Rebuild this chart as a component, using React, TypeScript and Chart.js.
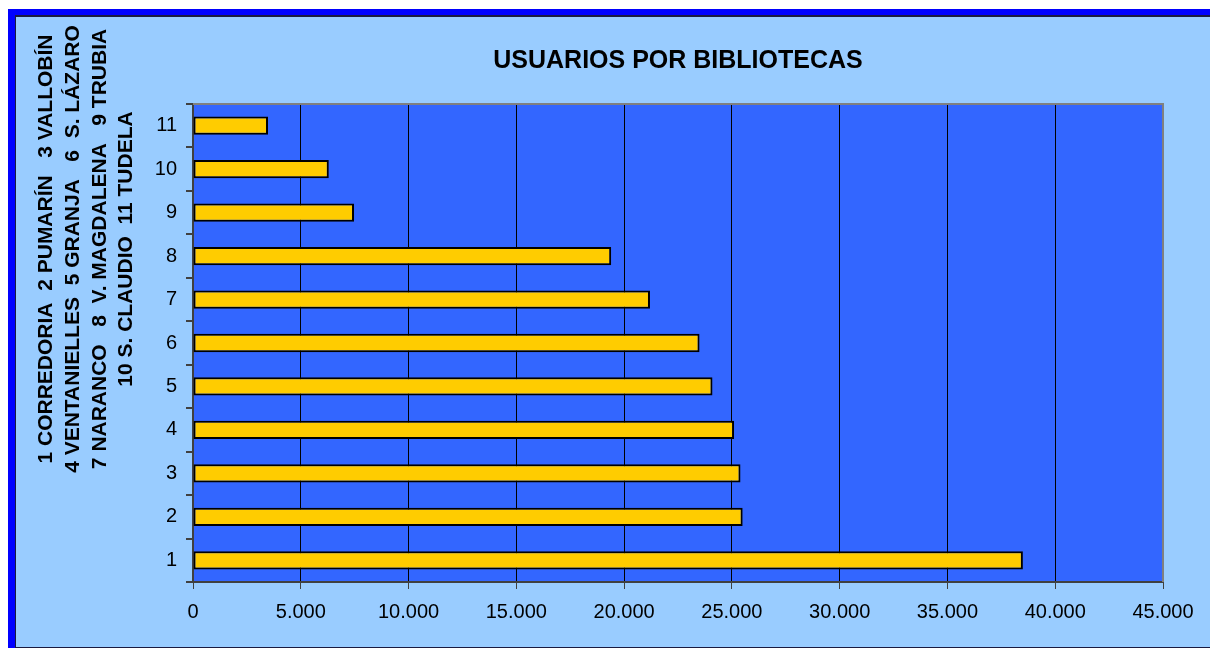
import React, { useEffect, useRef } from "react";
import { Chart, registerables } from "chart.js";

Chart.register(...registerables);

const categories = ["1", "2", "3", "4", "5", "6", "7", "8", "9", "10", "11"];
const usuarios = [38500, 25500, 25400, 25100, 24100, 23500, 21200, 19400, 7470, 6300, 3480];
const xMax = 45000;
const xStep = 5000;
const chartTitle = "USUARIOS POR BIBLIOTECAS";
const axisTitleLines = [
  "1 CORREDORIA  2 PUMARÍN   3 VALLOBÍN",
  "4 VENTANIELLES  5 GRANJA   6  S. LÁZARO",
  "7 NARANCO   8  V. MAGDALENA   9 TRUBIA",
  "10 S. CLAUDIO  11 TUDELA",
];

const FONT = "'Liberation Sans', Arial, sans-serif";
const W = 1210;
const H = 648;

const fmt = (v: number) => {
  const s = Math.round(v).toString();
  return s.replace(/\B(?=(\d{3})+(?!\d))/g, ".");
};

const framePlugin = {
  id: "frame",
  beforeDraw(chart: any) {
    const { ctx, chartArea } = chart;
    ctx.save();
    ctx.fillStyle = "#ffffff";
    ctx.fillRect(0, 0, W + 20, H + 20);
    ctx.fillStyle = "#0000ff";
    ctx.fillRect(8, 9, W + 20, H + 20);
    ctx.fillStyle = "#1a1a40";
    ctx.fillRect(15, 15, W + 20, H + 20);
    ctx.fillStyle = "#99ccff";
    ctx.fillRect(16, 17, W + 20, H - 18);
    ctx.fillStyle = "#3366ff";
    ctx.fillRect(chartArea.left, chartArea.top, chartArea.right - chartArea.left, chartArea.bottom - chartArea.top);
    ctx.restore();
  },
  afterDraw(chart: any) {
    const { ctx, chartArea } = chart;
    ctx.save();
    ctx.strokeStyle = "#808080";
    ctx.lineWidth = 2;
    ctx.beginPath();
    ctx.moveTo(chartArea.left, chartArea.top);
    ctx.lineTo(chartArea.right, chartArea.top);
    ctx.lineTo(chartArea.right, chartArea.bottom);
    ctx.stroke();
    ctx.fillStyle = "#000000";
    ctx.font = `bold 21px ${FONT}`;
    ctx.textAlign = "center";
    ctx.textBaseline = "middle";
    const xs = [46.5, 73.5, 100, 126.5];
    axisTitleLines.forEach((line, i) => {
      ctx.save();
      ctx.translate(xs[i], 249);
      ctx.rotate(-Math.PI / 2);
      ctx.fillText(line, 0, 0);
      ctx.restore();
    });
    ctx.restore();
  },
};

export default function App() {
  const ref = useRef<HTMLCanvasElement | null>(null);
  useEffect(() => {
    if (!ref.current) return;
    const chart = new Chart(ref.current, {
      type: "bar",
      data: {
        labels: categories,
        datasets: [
          {
            data: usuarios,
            backgroundColor: "#ffcc00",
            borderColor: "#000000",
            borderWidth: 2,
            borderSkipped: false,
            barPercentage: 0.42,
            categoryPercentage: 1,
          },
        ],
      },
      options: {
        indexAxis: "y",
        animation: false,
        responsive: false,
        devicePixelRatio: 1,
        layout: { padding: { left: 0, right: 47, top: 0, bottom: 0 } },
        plugins: {
          legend: { display: false },
          tooltip: { enabled: false },
          title: {
            display: true,
            text: chartTitle,
            fullSize: false,
            color: "#000000",
            font: { family: FONT, size: 25, weight: "bold" },
            padding: { top: 46, bottom: 28 },
          },
        },
        scales: {
          x: {
            type: "linear",
            min: 0,
            max: xMax,
            afterFit: (s: any) => {
              s.height = 66;
            },
            ticks: {
              stepSize: xStep,
              color: "#000000",
              font: { family: FONT, size: 20 },
              padding: 11,
              callback: (v: any) => fmt(Number(v)),
              maxRotation: 0,
            },
            grid: {
              color: "#000000",
              lineWidth: 1,
              tickLength: 7,
              tickColor: "#404040",
            },
            border: { color: "#404040", width: 2 },
          },
          y: {
            type: "category",
            reverse: true,
            afterFit: (s: any) => {
              s.width = 193;
            },
            ticks: {
              color: "#000000",
              font: { family: FONT, size: 20 },
              padding: 9,
            },
            grid: {
              offset: true,
              drawOnChartArea: false,
              tickLength: 7,
              color: "#404040",
              lineWidth: 2,
            },
            border: { color: "#404040", width: 2 },
          },
        },
      },
      plugins: [framePlugin],
    });
    return () => chart.destroy();
  }, []);
  return (
    <div style={{ position: "absolute", left: 0, top: 0, width: W, height: H, overflow: "hidden" }}>
      <canvas ref={ref} width={W} height={H} style={{ display: "block", width: W, height: H }} />
    </div>
  );
}
